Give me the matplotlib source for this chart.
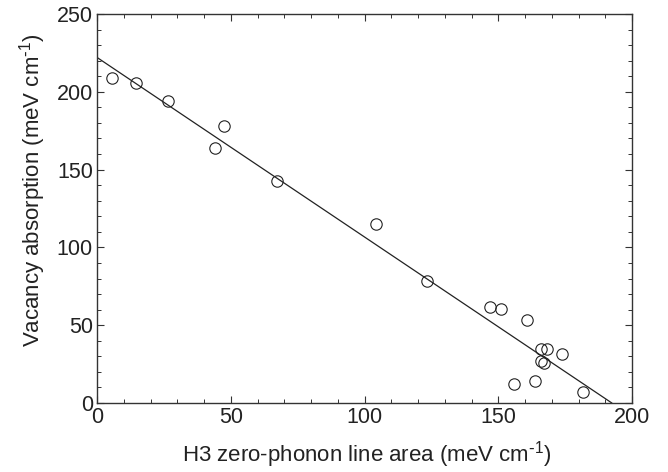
import matplotlib
matplotlib.use("Agg")
import matplotlib.pyplot as plt
import numpy as np

# Data
h3_area = [5.5, 14.5, 26.4, 44.2, 47.6, 67.2, 104.3, 123.2, 146.8, 150.9,
           160.9, 165.9, 168.3, 173.7, 165.9, 167.1, 155.9, 163.6, 181.7]
vacancy = [208.7, 205.9, 194.3, 163.7, 178.2, 142.7, 115.3, 78.5, 61.7, 60.6,
           53.1, 34.5, 34.5, 31.7, 26.8, 25.7, 12.4, 14.1, 7.1]
fit_intercept = 222.1
fit_slope = -1.154
fit_x = [0.0, 192.4]

xticks = [0, 50, 100, 150, 200]
yticks = [0, 50, 100, 150, 200, 250]

plt.rcParams['font.family'] = ['Liberation Sans', 'DejaVu Sans']
plt.rcParams['mathtext.default'] = 'regular'

text_color = '#222222'
W, H = 668, 472
fig = plt.figure(figsize=(W / 100, H / 100), dpi=100)
ax = fig.add_axes([97 / W, 1 - 403 / H, (632 - 97) / W, (403 - 14) / H])

fx = np.array(fit_x)
ax.plot(fx, fit_intercept + fit_slope * fx, color='#222222', lw=0.9)
ax.plot(h3_area, vacancy, 'o', mfc='none', mec='#222222', ms=8.2, mew=0.8)

ax.set_xlim(0, 200)
ax.set_ylim(0, 250)
ax.set_xticks(xticks)
ax.set_yticks(yticks)
ax.set_xticks(np.arange(0, 201, 10), minor=True)
ax.set_yticks(np.arange(0, 251, 10), minor=True)
ax.tick_params(which='both', direction='in', top=True, right=True,
               colors='#333333', labelcolor=text_color, labelsize=15.5)
ax.tick_params(which='major', length=5, width=0.8, pad=3)
ax.tick_params(which='minor', length=3, width=0.7)
for s in ax.spines.values():
    s.set_linewidth(1.0)
    s.set_color('#333333')

fig.text(367 / W, 1 - 455 / H, r'H3 zero-phonon line area (meV cm$^{\text{-}1}$)',
         fontsize=16, color=text_color, ha='center', va='center')
fig.text(33 / W, 1 - 190 / H, r'Vacancy absorption (meV cm$^{\text{-}1}$)',
         fontsize=16, color=text_color, ha='center', va='center', rotation=90)

fig.savefig('out.png', dpi=100)
